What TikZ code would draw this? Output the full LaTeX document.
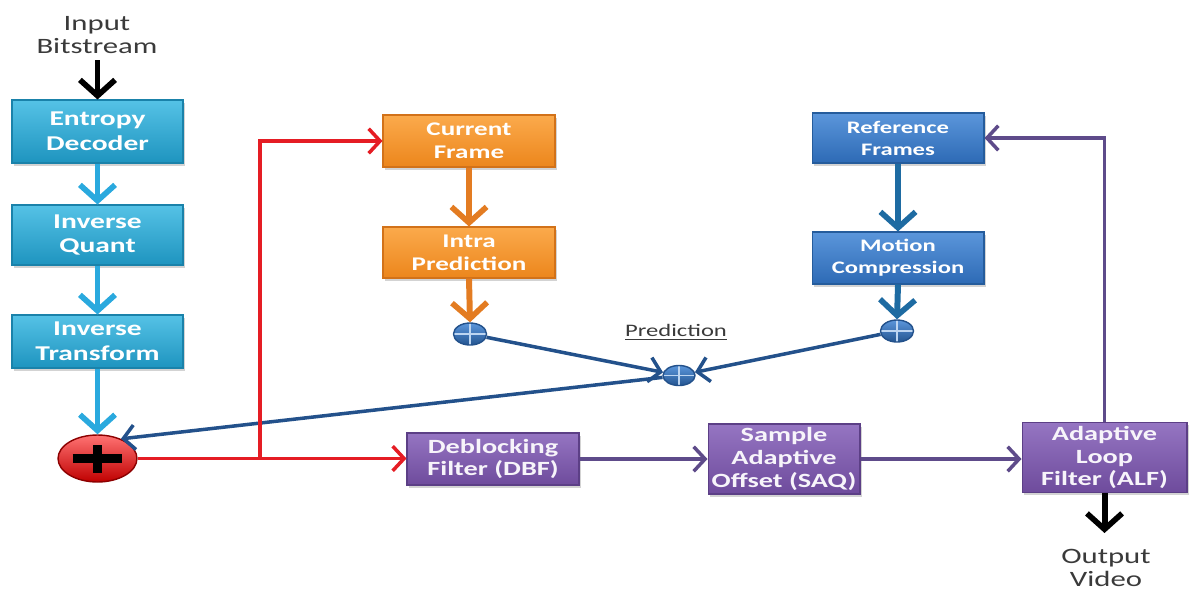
\documentclass[tikz,border=0pt]{standalone}
\usepackage{fontspec}
\setmainfont{Carlito}[FakeStretch=1.4]
\usetikzlibrary{arrows.meta,shadows,shapes.geometric}

\definecolor{cyanT}{HTML}{55C2E6}
\definecolor{cyanB}{HTML}{1E94BF}
\definecolor{cyanD}{HTML}{1A82AA}
\definecolor{cyanA}{HTML}{2AA9DE}
\definecolor{orgT}{HTML}{FBAA4C}
\definecolor{orgB}{HTML}{EC861C}
\definecolor{orgD}{HTML}{D27219}
\definecolor{orgA}{HTML}{E37C22}
\definecolor{bluT}{HTML}{5B96DB}
\definecolor{bluB}{HTML}{2D6AB5}
\definecolor{bluD}{HTML}{255C9C}
\definecolor{bluA}{HTML}{1E6BA2}
\definecolor{purT}{HTML}{9575C2}
\definecolor{purB}{HTML}{6E4B9C}
\definecolor{purD}{HTML}{5C3F86}
\definecolor{purA}{HTML}{5E4B8A}
\definecolor{navy}{HTML}{23518B}
\definecolor{redL}{HTML}{E51D24}
\definecolor{txtgray}{HTML}{3A3A3A}

\tikzset{
  box/.style={rectangle, text=white, align=center, inner sep=2pt, line width=0.6pt,
    drop shadow={opacity=0.35, shadow xshift=1.2pt, shadow yshift=-1.5pt}},
  cyanbox/.style={box, top color=cyanT, bottom color=cyanB, draw=cyanD,
    font=\bfseries\fontsize{12}{14}\selectfont, minimum width=3.42cm},
  orgbox/.style={box, top color=orgT, bottom color=orgB, draw=orgD,
    font=\bfseries\fontsize{11}{13}\selectfont, minimum width=3.44cm},
  blubox/.style={box, top color=bluT, bottom color=bluB, draw=bluD,
    font=\bfseries\fontsize{10}{12.5}\selectfont, minimum width=3.44cm},
  purbox/.style={box, top color=purT, bottom color=purB, draw=purD, text=white!92!purT,
    font=\bfseries\fontsize{11.5}{13}\selectfont},
  fatarrow/.style={draw=#1, line width=3.4pt,
    -{Straight Barb[length=9pt,width=20pt,line width=3.2pt]}},
  thinarrow/.style={draw=#1, line width=2pt,
    -{Straight Barb[length=6.5pt,width=14pt,line width=2pt]}},
  sumdot/.style={ellipse, top color=bluT, bottom color=bluB!80!black, draw=navy,
    line width=0.8pt, minimum width=0.66cm, minimum height=0.44cm, inner sep=0pt,
    path picture={
      \draw[white!60!bluT, line width=0.8pt]
        (path picture bounding box.north) -- (path picture bounding box.south)
        (path picture bounding box.west) -- (path picture bounding box.east);}},
  label/.style={text=txtgray, align=center}
}

\begin{document}
\begin{tikzpicture}[x=0.02cm, y=-0.02cm]
\useasboundingbox (0,0) rectangle (1192,592);

% decoding chain
\node[label, font=\fontsize{12.5}{12.8}\selectfont] (inp) at (97,35) {Input\\Bitstream};
\node[cyanbox, minimum height=1.26cm] (ed) at (97.5,131.5) {Entropy\\Decoder};
\node[cyanbox, minimum height=1.20cm] (iq) at (97.5,235) {Inverse\\Quant};
\node[cyanbox, minimum height=1.06cm] (it) at (97.5,341.5) {Inverse\\Transform};

% adder
\node[ellipse, top color=red!55!white, bottom color=red!75!black, draw=red!55!black,
      line width=0.8pt, minimum width=1.58cm, minimum height=0.94cm, inner sep=0pt] (rc) at (97.5,458.5) {};
\draw[black, line width=5.6pt] ([xshift=-0.5cm]rc.center) -- ([xshift=0.5cm]rc.center)
      ([yshift=-0.28cm]rc.center) -- ([yshift=0.28cm]rc.center);

% intra path
\node[orgbox, minimum height=1.04cm] (cf) at (469,141) {Current\\Frame};
\node[orgbox, minimum height=1.02cm] (ip) at (469,252.5) {Intra\\Prediction};
\node[sumdot] (s1) at (470,334) {};

% inter path
\node[blubox, minimum height=1.00cm] (rf) at (898,138) {Reference\\Frames};
\node[blubox, minimum height=1.04cm] (mc) at (898,258) {Motion\\Compression};
\node[sumdot] (s2) at (897,331) {};

% prediction combiner
\node[sumdot, minimum width=0.64cm, minimum height=0.40cm] (pc) at (679,375.5) {};
\node[text=txtgray, font=\fontsize{10}{11}\selectfont] (plab) at (676,332) {\underline{Prediction}};

% in-loop filters
\node[purbox, minimum width=3.44cm, minimum height=1.04cm] (dbf) at (493,459) {Deblocking\\Filter (DBF)};
\node[purbox, minimum width=3.04cm, minimum height=1.40cm] (sao) at (784,459) {Sample\\Adaptive\\Offset  (SAQ)};
\node[purbox, minimum width=3.30cm, minimum height=1.38cm] (alf) at (1104.5,457.5) {Adaptive\\Loop\\Filter (ALF)};
\node[label, font=\fontsize{12.5}{12.8}\selectfont] (outp) at (1106,568) {Output\\Video};

% connectors
\coordinate (intop) at (97.5,60);
\coordinate (outbot) at (1104.5,533);
\coordinate (rj) at (260,458.5);

\draw[fatarrow=black] (intop) -- (ed.north);
\draw[fatarrow=cyanA] (ed.south) -- (iq.north);
\draw[fatarrow=cyanA] (iq.south) -- (it.north);
\draw[fatarrow=cyanA] (it.south) -- (rc.north);

\draw[fatarrow=orgA] (cf.south) -- (ip.north);
\draw[fatarrow=orgA] (ip.south) -- (s1.north);
\draw[fatarrow=bluA] (rf.south) -- (mc.north);
\draw[fatarrow=bluA] (mc.south) -- (s2.north);

\draw[thinarrow=navy] (s1) -- (pc);
\draw[thinarrow=navy] (s2) -- (pc);
\draw[thinarrow=navy] (pc) -- (rc.40);

\draw[thinarrow=redL, line width=1.8pt] (rc.east) -- (rc.east -| dbf.west);
\draw[thinarrow=redL, line width=1.8pt] (rj) |- (cf.west);

\draw[thinarrow=purA, line width=2.2pt] (dbf.east) -- (sao.west);
\draw[thinarrow=purA, line width=2.2pt] (sao.east) -- (sao.east -| alf.west);
\draw[thinarrow=purA, line width=2.2pt] (alf.north) |- (rf.east);

\draw[fatarrow=black] (alf.south) -- (outbot);
\end{tikzpicture}
\end{document}
